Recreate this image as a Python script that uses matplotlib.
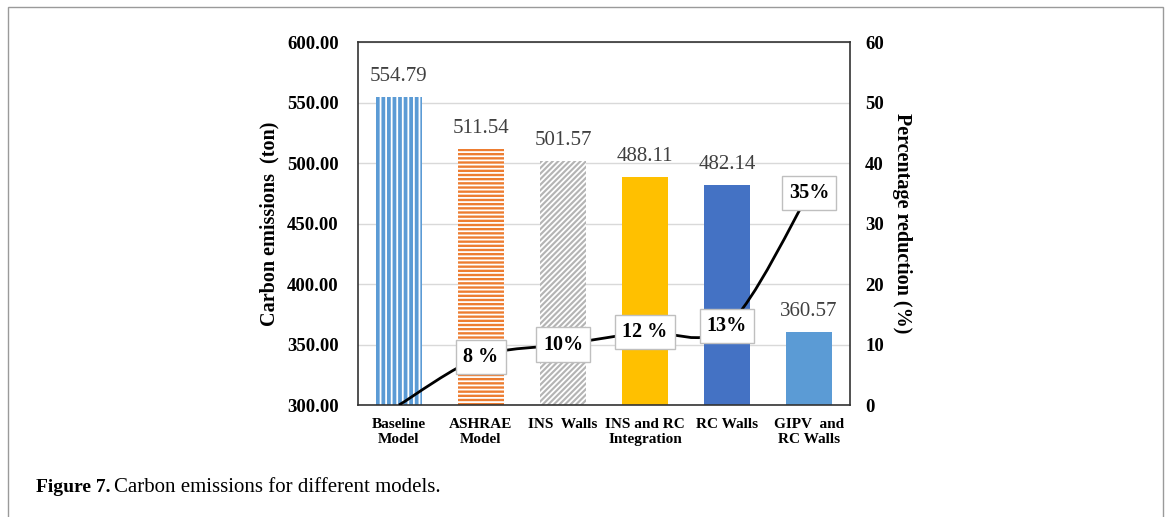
import numpy as np
import matplotlib
matplotlib.use("Agg")
import matplotlib.pyplot as plt
from matplotlib.path import Path
from matplotlib.patches import PathPatch, Rectangle

# chart data
categories = ["Baseline\nModel", "ASHRAE\nModel", "INS  Walls",
              "INS and RC\nIntegration", "RC Walls", "GIPV  and\nRC Walls"]
emissions = [554.79, 511.54, 501.57, 488.11, 482.14, 360.57]
reduction = [0, 8, 10, 12, 13, 35]
reduction_labels = ["", "8 %", "10%", "12 %", "13%", "35%"]

bar_colors = ["#5B9BD5", "#ED7D31", "#B4B4B4", "#FFC000", "#4472C4", "#5B9BD5"]
hatches = ["|||", "----", "//////", None, None, None]

plt.rcParams["font.family"] = ["Liberation Serif", "DejaVu Serif"]
plt.rcParams["hatch.linewidth"] = 1.3

fig = plt.figure(figsize=(11.68, 5.17), dpi=100)
ax = fig.add_axes([0.3065, 0.2166, 0.4212, 0.7021])

# outer frame of the figure panel
fig.patches.append(Rectangle((8 / 1168, -0.05), 1155 / 1168, 1.05 - 7 / 517,
                             transform=fig.transFigure, fill=False,
                             edgecolor="#9a9a9a", linewidth=1.0))

x = np.arange(len(categories))
for i in range(len(categories)):
    if hatches[i]:
        ax.bar(x[i], emissions[i], width=0.55, color=bar_colors[i],
               edgecolor="white", linewidth=0, hatch=hatches[i], zorder=2)
    else:
        ax.bar(x[i], emissions[i], width=0.55, color=bar_colors[i],
               linewidth=0, zorder=2)
    ax.annotate(f"{emissions[i]:.2f}", (x[i], emissions[i]), xytext=(0, 8),
                textcoords="offset points", ha="center", va="bottom",
                fontsize=15, color="#404040")

ax.set_ylim(300, 600)
ax.set_xlim(-0.5, len(categories) - 0.5)
ax.set_yticks(np.arange(300, 601, 50))
ax.set_yticklabels([f"{v:.2f}" for v in np.arange(300, 601, 50)])
ax.set_xticks(x)
ax.set_xticklabels(categories, fontsize=11, fontweight="bold", linespacing=1.2)
ax.tick_params(axis="both", length=0)
ax.tick_params(axis="y", labelsize=13.5, pad=14)
for lab in ax.get_yticklabels():
    lab.set_fontweight("bold")
ax.tick_params(axis="x", pad=9)
ax.grid(axis="y", color="#D9D9D9", linewidth=1.0, zorder=0)
ax.set_axisbelow(True)
for sp in ax.spines.values():
    sp.set_color("#333333")
    sp.set_linewidth(1.2)
ax.set_ylabel("Carbon emissions  (ton)", fontsize=14.5, fontweight="bold", labelpad=5)

# secondary axis: percentage reduction, smoothed line
ax2 = ax.twinx()
ax2.set_ylim(0, 60)
ax2.set_yticks(np.arange(0, 61, 10))
ax2.tick_params(axis="y", length=0, labelsize=13.5, pad=11)
for lab in ax2.get_yticklabels():
    lab.set_fontweight("bold")
for sp in ax2.spines.values():
    sp.set_visible(False)
ax2.set_ylabel("Percentage reduction (%)", fontsize=14.5, fontweight="bold",
               rotation=-90, labelpad=20)

pts = np.column_stack([x, reduction]).astype(float)
verts = [tuple(pts[0])]
codes = [Path.MOVETO]
n = len(pts)
for i in range(n - 1):
    p0 = pts[max(i - 1, 0)]
    p1 = pts[i]
    p2 = pts[i + 1]
    p3 = pts[min(i + 2, n - 1)]
    c1 = p1 + (p2 - p0) / 6
    c2 = p2 - (p3 - p1) / 6
    verts += [tuple(c1), tuple(c2), tuple(p2)]
    codes += [Path.CURVE4] * 3
ax2.add_patch(PathPatch(Path(verts, codes), fill=False, edgecolor="black",
                        linewidth=2, zorder=3))

for i in range(n):
    if reduction_labels[i]:
        ax2.text(x[i], reduction[i], reduction_labels[i], ha="center", va="center",
                 fontsize=14.5, fontweight="bold", zorder=4,
                 bbox=dict(boxstyle="square,pad=0.35", facecolor="white",
                           edgecolor="#BFBFBF", linewidth=1.0))

fig.text(36 / 1168, 1 - 488 / 517, "Figure 7.", fontsize=14, fontweight="bold",
         va="center", ha="left")
fig.text(114 / 1168, 1 - 488 / 517, "Carbon emissions for different models.",
         fontsize=15, va="center", ha="left")

fig.savefig("out.png", dpi=100)
